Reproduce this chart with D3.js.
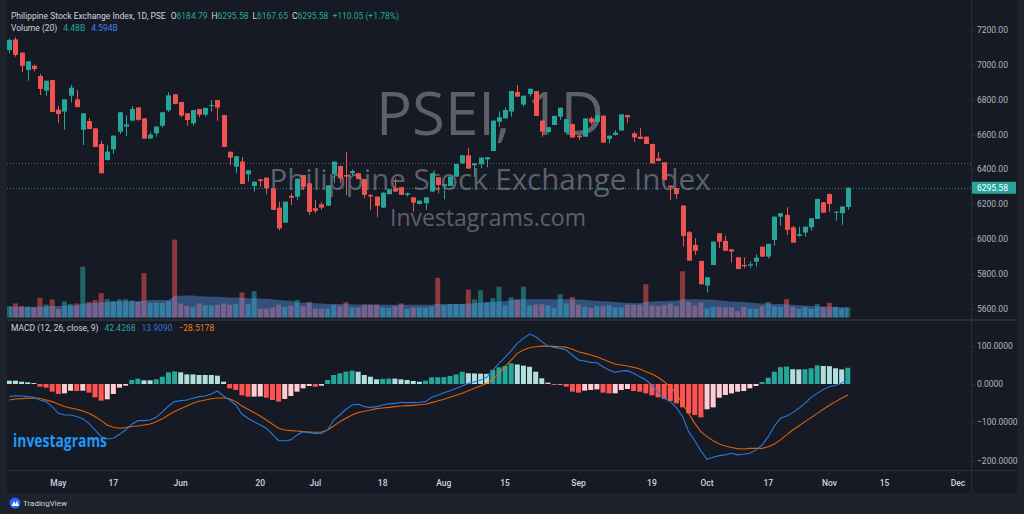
<!DOCTYPE html>
<html><head><meta charset="utf-8">
<script src="https://cdn.jsdelivr.net/npm/d3@7"></script>
<style>html,body{margin:0;padding:0;background:#1e222d;}svg{display:block;}</style>
</head><body>
<svg id="c" width="1024" height="514"></svg>
<script>
// ---- DATA (bar index 0 = 2 May 2022; first bar is index -8) ----
const firstIndex = -8;
const openV = [7085,7146,7070,6971,6995,6936,6852,6913,6743,6732,6823,6802,6628,6678,6636,6546,6454,6516,6617,6646,6680,6756,6693,6577,6607,6651,6739,6831,6787,6722,6665,6747,6714,6766,6798,6712,6502,6416,6445,6372,6305,6343,6353,6292,6181,6095,6248,6244,6368,6321,6177,6200,6192,6374,6420,6368,6378,6378,6345,6254,6244,6181,6258,6292,6298,6254,6240,6202,6206,6273,6355,6305,6305,6359,6435,6481,6424,6430,6458,6506,6674,6693,6732,6844,6772,6833,6850,6680,6615,6655,6703,6613,6661,6594,6588,6693,6674,6709,6575,6598,6623,6712,6607,6588,6588,6546,6464,6441,6307,6292,6193,6040,5967,5875,5734,5852,6034,5990,5942,5896,5852,5849,5871,5957,5900,5996,6129,6139,6068,6019,6038,6068,6116,6212,6259,6152,6149,6184.79];
const highV = [7150,7158,7072,7020,7001,6948,6910,6915,6764,6802,6885,6856,6722,6695,6637,6565,6540,6594,6728,6712,6764,6758,6694,6613,6646,6728,6841,6833,6788,6723,6741,6748,6753,6798,6800,6713,6503,6477,6472,6395,6331,6347,6354,6293,6215,6216,6263,6347,6369,6322,6225,6212,6310,6445,6421,6498,6401,6380,6346,6256,6246,6268,6287,6349,6299,6267,6241,6222,6241,6379,6356,6316,6360,6432,6482,6521,6436,6469,6471,6681,6732,6756,6851,6885,6824,6864,6851,6681,6642,6708,6755,6690,6662,6602,6694,6703,6722,6710,6595,6626,6717,6714,6617,6636,6589,6547,6502,6442,6308,6293,6194,6047,6005,5876,5782,5987,6035,6020,5943,5897,5896,5871,5913,5958,5974,6130,6149,6183,6076,6072,6073,6121,6232,6213,6261,6159,6188,6295.58];
const lowV = [7066,7047,6957,6909,6963,6827,6823,6728,6665,6627,6783,6756,6540,6630,6528,6377,6452,6489,6603,6592,6679,6680,6576,6575,6588,6640,6728,6774,6699,6651,6651,6699,6703,6732,6680,6528,6426,6378,6316,6330,6273,6301,6258,6167,6050,6094,6196,6225,6282,6139,6148,6168,6191,6321,6321,6254,6368,6345,6235,6168,6126,6180,6257,6272,6253,6244,6158,6200,6168,6272,6263,6229,6304,6358,6434,6404,6359,6407,6412,6505,6645,6692,6703,6817,6760,6818,6706,6588,6607,6654,6684,6604,6582,6569,6587,6659,6673,6553,6550,6594,6622,6665,6559,6573,6545,6434,6447,6339,6225,6231,5957,5876,5910,5740,5694,5851,5948,5932,5866,5828,5833,5833,5843,5899,5890,5963,6076,6024,5980,6015,6015,6049,6115,6152,6158,6106,6082,6167.65];
const closeV = [7143,7057,6995,7020,6976,6862,6909,6730,6718,6802,6869,6758,6722,6632,6529,6378,6502,6594,6728,6659,6747,6684,6577,6600,6646,6728,6825,6776,6709,6684,6741,6714,6753,6769,6755,6529,6468,6476,6317,6395,6330,6334,6292,6168,6062,6215,6238,6347,6301,6156,6162,6181,6309,6445,6349,6359,6391,6345,6254,6245,6191,6267,6286,6273,6254,6263,6210,6221,6240,6378,6311,6315,6359,6431,6481,6405,6435,6468,6470,6680,6699,6741,6850,6818,6823,6863,6707,6617,6642,6707,6754,6689,6583,6585,6693,6670,6709,6554,6594,6611,6716,6699,6583,6575,6546,6435,6449,6340,6298,6259,6019,5877,5933,5741,5782,5986,5986,5933,5929,5829,5845,5856,5894,5900,5973,6129,6149,6053,5980,6028,6072,6120,6231,6152,6202,6158,6187,6295.58];
// volume in billions
const volumeV = [5.1,6.3,5.1,4.8,4.5,8.8,5.8,8.1,3.9,7.2,6.0,6.3,22.7,6.9,7.8,10.9,8.2,7.3,8.1,8.2,7.6,7.0,19.8,6.6,6.6,6.6,7.3,34.9,6.3,5.2,4.8,6.3,5.5,5.5,5.7,6.3,5.7,6.0,11.2,6.0,11.8,3.9,4.0,4.5,5.7,4.8,5.4,7.8,5.1,6.9,4.0,4.0,4.0,5.7,5.1,6.9,4.5,4.5,5.8,5.7,5.8,4.5,4.3,5.1,6.3,3.9,4.5,4.5,4.5,4.9,17.8,5.5,6.0,6.0,6.0,12.5,8.1,12.2,6.6,8.7,13.8,5.5,9.0,8.1,13.8,5.4,5.8,6.0,5.5,4.3,10.4,6.3,9.1,5.8,4.8,4.3,5.1,5.1,5.5,4.5,4.5,5.7,5.7,5.7,14.9,5.4,5.1,5.5,6.3,5.1,20.7,7.0,5.4,6.7,4.2,4.8,4.8,4.5,4.5,2.8,4.8,3.9,3.9,5.1,6.9,5.1,4.8,8.2,4.8,3.9,4.8,3.9,6.0,4.8,6.6,4.8,4.2,4.48];
const volumeMA = [4.8,4.8,4.8,4.8,4.8,4.9,4.9,5.1,5.1,5.4,5.4,5.4,6.3,6.4,6.6,6.7,7.0,7.2,7.3,7.3,7.3,7.3,7.6,7.8,7.8,7.8,7.8,9.6,9.7,9.9,9.9,9.5,9.4,9.3,9.3,9.1,9.0,9.0,8.8,8.6,8.5,8.5,8.4,8.2,7.8,7.6,7.5,6.7,6.6,6.6,6.4,6.3,6.1,6.0,6.0,6.0,5.8,5.8,5.8,5.8,5.7,5.7,5.7,5.7,5.7,5.7,5.7,5.7,5.7,5.7,6.2,6.1,6.1,6.0,6.0,6.3,6.4,6.7,6.9,6.9,7.2,7.4,7.8,8.1,8.2,8.2,8.2,8.2,8.2,8.2,8.2,8.2,8.2,8.1,7.9,7.6,7.5,7.3,7.2,6.9,6.7,6.6,6.5,6.4,6.9,7.2,7.3,7.4,7.5,7.5,8.1,8.2,8.2,8.1,8.1,7.9,7.6,7.4,7.2,7.0,6.9,6.7,6.4,6.3,6.3,6.1,6.0,5.8,5.7,5.5,5.4,5.1,4.9,4.8,4.8,4.7,4.6,4.594];
const macdHist = [8.7,8.7,6,4.4,2.6,-7,-9.6,-20,-26,-24.4,-17.4,-18.3,-17.4,-22.6,-34.8,-43.5,-40,-26,-9.6,-4.4,10.4,14,9.6,9.6,12.2,19,30.5,33,30.5,25,25,23.5,23.5,23.5,21.7,6,-11.3,-15.7,-29.6,-33,-33,-32.5,-35.7,-41.8,-46,-39,-31.3,-20,-11.3,-5.2,-7,-4.4,10.4,23.5,27.8,32,34.8,32,23.5,19,12.2,13.5,14.2,14,12.2,10.4,7.8,6,8.7,17.4,17.6,18,21,25,32,28,27.5,27,26.5,36.5,43.5,47,54,51,48,45,32,14.8,3.5,-2.6,-1.7,-7,-20,-22.6,-17.4,-15.7,-14,-22.6,-24.4,-24.4,-15.7,-13,-18.3,-20,-24.4,-29.6,-34.8,-39,-44.4,-50.5,-61,-76.6,-81,-87,-66,-61,-35.7,-28.7,-24.4,-20,-18.3,-11.3,-5.2,5.2,16.5,32,44,45.5,38.5,38,38.3,41,48.7,47,46.5,41,38,42.4268];
const macdLine = [-33,-30.5,-31.3,-33,-34.8,-41.8,-46,-59,-76.6,-81,-81,-85,-91,-102.7,-120,-137.5,-143.6,-141.8,-131.4,-120,-105,-95.7,-95.7,-94,-87,-73,-57.4,-46,-43.5,-41.8,-37.4,-33,-31.3,-26,-18.3,-31.3,-41.8,-54.8,-78.3,-89.6,-98.3,-107,-115.7,-131.4,-148,-148,-146,-133,-124.4,-127,-128.8,-128.8,-120,-94,-81,-66,-54.8,-53,-59,-61,-59,-54.8,-52,-50.5,-47.8,-48.7,-48.7,-47.8,-46,-34.8,-29.6,-22.6,-17.4,-11.3,-5.2,1.7,6,10.4,17.4,36.5,54,69.6,87,106,119,130.5,123.5,110.5,99,95.7,93,88.7,75.7,62.6,60,56.5,55.7,45.2,36.5,30.5,34,34.8,27.8,19,10.4,-2.6,-22.6,-37.4,-46,-61.8,-85,-124.4,-148,-175,-196.6,-191.4,-187,-185,-181,-185,-183.6,-181,-172,-159,-137.5,-109.6,-89.6,-83.5,-74.8,-63.5,-50.5,-34.8,-24.4,-14,-7,-3.5,1.7,13.909];
const signalLine = [-41.8,-39,-38.3,-37.4,-37.4,-37.4,-41.8,-46,-52,-59,-62.6,-66,-70.5,-76.6,-85,-95.7,-107,-113,-115.7,-114,-111,-109.6,-107,-104.4,-98.3,-91,-81,-72,-64.4,-57.4,-50.5,-45,-41.8,-38.3,-36.5,-36.5,-38.3,-46,-57.4,-66,-74.8,-83.5,-94,-105,-115.7,-120,-121.8,-122.7,-124.4,-125.3,-126,-125.3,-120,-109.6,-98.3,-89.6,-81,-74.8,-71.3,-67.9,-64.4,-62.6,-61,-59,-57.4,-56.5,-55.7,-54,-53,-48.7,-44.4,-40,-34.8,-29.6,-24.4,-17.4,-11.3,-5.2,1.7,12.2,27.8,45.2,62.6,80,88.7,94.8,97.4,99,99,98.3,97.4,95.7,90.5,84.4,80,75.7,71.3,64.4,58.3,52.2,49.6,47,43.5,40,32,26,17.4,6,-7,-26,-50.5,-76.6,-102.7,-124.4,-137.5,-148,-156.6,-162,-166,-168.8,-169.7,-168,-168,-168,-163.6,-156.6,-146,-133,-120,-109.6,-98.3,-87.9,-76.6,-66,-55.7,-46,-37.4,-28.5178];
const priceTicks = [5600,5800,6000,6200,6400,6600,6800,7000,7200];
const macdTicks = [100,0,-100,-200];
const macdTickLabels = ["100.0000","0.0000","\u2212100.0000","\u2212200.0000"];
const timeTickIndex = [0,9,20,33,42,53,63,73,85,97,106,116,126,135,147];
const timeTickLabels = ["May","17","Jun","20","Jul","18","Aug","15","Sep","19","Oct","17","Nov","15","Dec"];
const lastPrice = 6295.58;
const refLine = 6435;

// ---- LAYOUT ----
const W = 1024, H = 514;
const plotL = 7, plotR = 971;
const UP = "#26a69a", DN = "#ef5350";
const font = "Roboto, 'Noto Sans', sans-serif";
const svg = d3.select("#c");
const idx = d3.range(closeV.length).map(k => firstIndex + k);

const x = d3.scaleLinear().domain([-8, 129]).range([9.34, 847.78]);
const y = d3.scaleLinear().domain([5600, 7200]).range([308.9, 30]);
const yV = d3.scaleLinear().domain([0, 40]).range([317.5, 317.5 - 89.3]);
const yM = d3.scaleLinear().domain([-200, 100]).range([460.6, 345.7]);

svg.append("rect").attr("width", W).attr("height", H).attr("fill", "#1e222d");
svg.append("rect").attr("x", plotL).attr("y", 0).attr("width", 1017 - plotL).attr("height", 493).attr("fill", "#161a25");

const defs = svg.append("defs");
defs.append("clipPath").attr("id", "cp1").append("rect").attr("x", plotL).attr("y", 0).attr("width", plotR - plotL).attr("height", 319);
defs.append("clipPath").attr("id", "cp2").append("rect").attr("x", plotL).attr("y", 321).attr("width", plotR - plotL).attr("height", 149);

// separators / axis lines
svg.append("line").attr("x1", plotL).attr("x2", 1017).attr("y1", 320).attr("y2", 320).attr("stroke", "#2a2e39").attr("stroke-width", 2);
svg.append("line").attr("x1", plotL).attr("x2", 1017).attr("y1", 470.5).attr("y2", 470.5).attr("stroke", "#2a2e39");
svg.append("line").attr("x1", plotR + 0.5).attr("x2", plotR + 0.5).attr("y1", 0).attr("y2", 493).attr("stroke", "#2a2e39");

// watermark
const wm = svg.append("g").attr("fill", "#5d606b").attr("font-family", "'Open Sans', sans-serif").attr("text-anchor", "middle");
wm.append("text").attr("x", 490).attr("y", 135).attr("font-size", 60).text("PSEI, 1D");
wm.append("text").attr("x", 490).attr("y", 190).attr("font-size", 29.5).text("Philippine Stock Exchange Index");
wm.append("text").attr("x", 488).attr("y", 226).attr("font-size", 23).text("Investagrams.com");

// price pane
const g1 = svg.append("g").attr("clip-path", "url(#cp1)");
// volume bars
g1.selectAll("rect.v").data(idx).join("rect")
  .attr("x", i => x(i) - 2.5).attr("width", 5)
  .attr("y", i => yV(volumeV[i - firstIndex]))
  .attr("height", i => yV(0) - yV(volumeV[i - firstIndex]))
  .attr("fill", i => closeV[i - firstIndex] >= openV[i - firstIndex] ? UP : DN)
  .attr("fill-opacity", 0.55);
// volume MA area
g1.append("path").datum(idx)
  .attr("d", d3.area().x(i => x(i)).y0(yV(0)).y1(i => yV(volumeMA[i - firstIndex])))
  .attr("fill", "rgb(91,156,246)").attr("fill-opacity", 0.42);

// dotted lines
g1.append("line").attr("x1", plotL).attr("x2", plotR).attr("y1", Math.round(y(refLine)) + 0.5).attr("y2", Math.round(y(refLine)) + 0.5)
  .attr("stroke", "#5d606b").attr("stroke-dasharray", "1,2");
g1.append("line").attr("x1", plotL).attr("x2", plotR).attr("y1", Math.round(y(lastPrice)) + 0.5).attr("y2", Math.round(y(lastPrice)) + 0.5)
  .attr("stroke", UP).attr("stroke-dasharray", "1,2").attr("stroke-opacity", 0.8);

// candles
const cg = g1.selectAll("g.c").data(idx).join("g")
  .attr("fill", i => closeV[i - firstIndex] >= openV[i - firstIndex] ? UP : DN)
  .attr("stroke", i => closeV[i - firstIndex] >= openV[i - firstIndex] ? UP : DN);
cg.append("line")
  .attr("x1", i => Math.round(x(i)) + 0.5).attr("x2", i => Math.round(x(i)) + 0.5)
  .attr("y1", i => y(highV[i - firstIndex])).attr("y2", i => y(lowV[i - firstIndex]));
cg.append("rect").attr("stroke", "none")
  .attr("x", i => Math.round(x(i)) + 0.5 - 2.5).attr("width", 5)
  .attr("y", i => y(Math.max(openV[i - firstIndex], closeV[i - firstIndex])))
  .attr("height", i => Math.max(1, Math.abs(y(openV[i - firstIndex]) - y(closeV[i - firstIndex]))));

// MACD pane
const g2 = svg.append("g").attr("clip-path", "url(#cp2)");
g2.selectAll("rect.h").data(idx).join("rect")
  .attr("x", i => x(i) - 2.5).attr("width", 5)
  .attr("y", i => Math.min(yM(0), yM(macdHist[i - firstIndex])))
  .attr("height", i => Math.abs(yM(0) - yM(macdHist[i - firstIndex])))
  .attr("fill", i => {
    const k = i - firstIndex, h = macdHist[k], p = k > 0 ? macdHist[k - 1] : h;
    if (h >= 0) return h > p ? "#26a69a" : "#b2dfdb";
    return h < p ? "#ff5252" : "#ffcdd2";
  });
g2.append("path").datum(idx).attr("fill", "none").attr("stroke", "#ff6d00").attr("stroke-width", 1.1).attr("stroke-opacity", 0.85)
  .attr("d", d3.line().x(i => x(i)).y(i => yM(signalLine[i - firstIndex])));
g2.append("path").datum(idx).attr("fill", "none").attr("stroke", "#2979d9").attr("stroke-width", 1.1)
  .attr("d", d3.line().x(i => x(i)).y(i => yM(macdLine[i - firstIndex])));

// investagrams logo
svg.append("text").attr("x", 13).attr("y", 447).attr("font-family", "'Open Sans', sans-serif").attr("font-weight", 700)
  .attr("font-size", 17).attr("fill", "#2196f3").attr("textLength", 94).attr("lengthAdjust", "spacingAndGlyphs").text("investagrams");

// price axis
const pa = svg.append("g").attr("font-family", font).attr("font-size", 8.5).attr("fill", "#b2b5be");
priceTicks.forEach(p => {
  pa.append("line").attr("x1", plotR).attr("x2", plotR + 4).attr("y1", Math.round(y(p)) + 0.5).attr("y2", Math.round(y(p)) + 0.5).attr("stroke", "#2a2e39");
  pa.append("text").attr("x", 977).attr("y", y(p) + 3).text(p.toFixed(2));
});
macdTicks.forEach((m, k) => {
  pa.append("line").attr("x1", plotR).attr("x2", plotR + 4).attr("y1", Math.round(yM(m)) + 0.5).attr("y2", Math.round(yM(m)) + 0.5).attr("stroke", "#2a2e39");
  pa.append("text").attr("x", 977).attr("y", yM(m) + 3).text(macdTickLabels[k]);
});
svg.append("rect").attr("x", plotR + 1).attr("y", y(lastPrice) - 6).attr("width", 44).attr("height", 12).attr("fill", UP).attr("rx", 1);
svg.append("text").attr("x", 977).attr("y", y(lastPrice) + 3).attr("font-family", font).attr("font-size", 8.5).attr("fill", "#ffffff").text(lastPrice.toFixed(2));

// time axis
const ta = svg.append("g").attr("font-family", font).attr("font-size", 8.5).attr("font-weight", 500).attr("fill", "#d1d4dc").attr("text-anchor", "middle");
timeTickIndex.forEach((t, k) => {
  ta.append("line").attr("x1", Math.round(x(t)) + 0.5).attr("x2", Math.round(x(t)) + 0.5).attr("y1", 471).attr("y2", 474).attr("stroke", "#2a2e39");
  ta.append("text").attr("x", x(t)).attr("y", 486).text(timeTickLabels[k]);
});

// legends
const lg = svg.append("g").attr("font-family", font).attr("font-size", 8.5);
function row(yy, parts) {
  const t = lg.append("text").attr("x", 11).attr("y", yy);
  parts.forEach(([s, c, dx]) => t.append("tspan").attr("fill", c).attr("dx", dx || 0).text(s));
}
const W1 = "#d1d4dc";
row(19, [["Philippine Stock Exchange Index, 1D, PSE", W1], ["O", W1, 5], ["6184.79", UP], ["H", W1, 4], ["6295.58", UP], ["L", W1, 4], ["6167.65", UP], ["C", W1, 4], ["6295.58", UP], ["+110.05 (+1.78%)", UP, 4]]);
row(31, [["Volume (20)", W1], ["4.48B", UP, 6], ["4.594B", "#3d7ff0", 6]]);
row(331, [["MACD (12, 26, close, 9)", W1], ["42.4268", UP, 6], ["13.9090", "#2979d9", 6], ["\u221228.5178", "#f57c00", 6]]);

// TradingView mark
const tv = svg.append("g");
tv.append("circle").attr("cx", 15).attr("cy", 503).attr("r", 5.5).attr("fill", "#2962ff");
tv.append("path").attr("d", "M11.5,506 L14,501 L15.5,504 L17,500.5 L19,506 Z").attr("fill", "#ffffff");
tv.append("text").attr("x", 23).attr("y", 506).attr("font-family", font).attr("font-size", 8).attr("fill", "#d1d4dc").text("TradingView");
</script>
</body></html>
